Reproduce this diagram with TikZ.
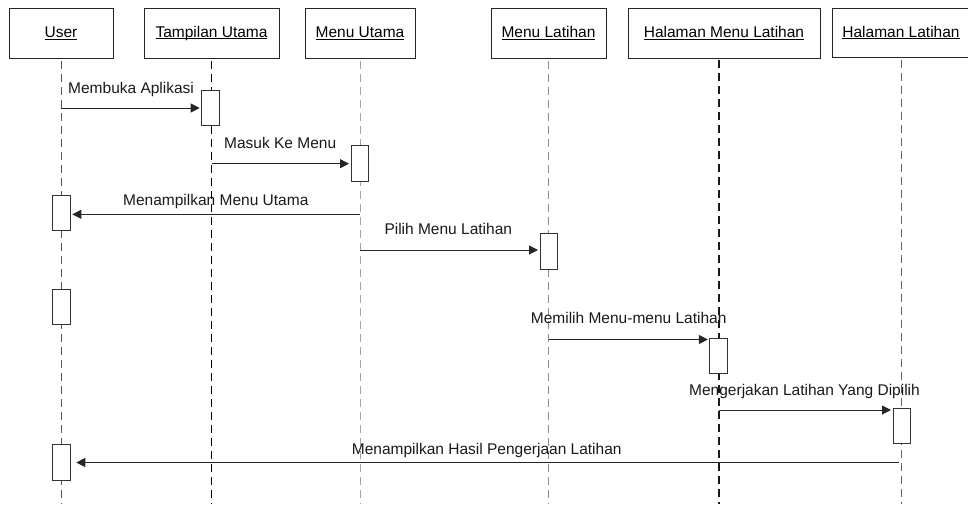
\documentclass[tikz,border=0pt]{standalone}
\usepackage{fontspec}
\setmainfont{Liberation Sans}
\usetikzlibrary{arrows.meta}
% underlined object name sitting just under the baseline
\newcommand\undl[1]{\setbox0\hbox{#1}\rlap{\rule[-2pt]{\wd0}{0.9pt}}\box0}
\begin{document}
\begin{tikzpicture}[x=1pt,y=-1pt,
  every node/.style={font=\fontsize{15.5}{18}\selectfont},
  head/.style={draw=black!85,line width=1pt,minimum height=50pt,inner sep=0pt,fill=white},
  life/.style={line width=1pt,dash pattern=on 8pt off 5pt},
  act/.style={draw=black!80,line width=1pt,fill=white,minimum width=17.6pt,minimum height=35.5pt,inner sep=0pt},
  msg/.style={draw=black!85,line width=1pt,-{Triangle[length=9pt,width=9pt]},shorten >=1.5pt},
  lbl/.style={anchor=base west,inner sep=0pt,text=black!90}]
\useasboundingbox (0,0) rectangle (968,504);

% object heads
\node[head,minimum width=104pt] (hU) at (61,33.3) {\undl{User}};
\node[head,minimum width=135pt] (hT) at (211.5,33.3) {\undl{Tampilan Utama}};
\node[head,minimum width=110pt] (hM) at (360,33.3) {\undl{Menu Utama}};
\node[head,minimum width=115pt] (hL) at (548.5,33.3) {\undl{Menu Latihan}};
\node[head,minimum width=192pt] (hH) at (724,33.3) {\undl{Halaman Menu Latihan}\hspace{10pt}};
\node[head,minimum width=138pt,minimum height=49pt] (hP) at (901,32.7) {\undl{Halaman Latihan}};

% lifeline ends
\coordinate (eU) at (61,504);
\coordinate (eT) at (211.5,504);
\coordinate (eM) at (360,504);
\coordinate (eL) at (548.5,504);
\coordinate (eH) at (719,504);
\coordinate (eP) at (901.3,504);

% lifelines
\draw[life,draw=black!65] (hU.south) ++(0,2) -- (eU);
\draw[life,draw=black,line width=1.3pt] (hT.south) ++(0,2) -- (eT);
\draw[life,draw=black!35] (hM.south) ++(0,2) -- (eM);
\draw[life,draw=black!45] (hL.south) ++(0,2) -- (eL);
\draw[life,draw=black!90,line width=1.3pt] (719,60) -- (eH);
\draw[life,draw=black!60] (hP.south) ++(0.3,2) -- (eP);

% activation bars
\node[act] (a1) at (210.5,107.8) {};
\node[act] (a2) at (359.8,163.3) {};
\node[act] (u1) at (61.5,213.2) {};
\node[act] (a3) at (548.8,251.5) {};
\node[act] (u2) at (61.5,307) {};
\node[act] (a4) at (718.7,356) {};
\node[act] (a5) at (901.8,426.2) {};
\node[act] (u3) at (61.5,462.7) {};

% message start points on the lifelines
\coordinate (m1) at (61,108);
\coordinate (m2) at (211.5,163.7);
\coordinate (m3) at (360,214.3);
\coordinate (m4) at (360,250);
\coordinate (m6) at (548.5,339.5);
\coordinate (m7) at (719,410);
\coordinate (m8) at (899,462.5);

% messages
\draw[msg] (m1) -- (m1 -| a1.west);
\draw[msg] (m2) -- (m2 -| a2.west);
\draw[msg] (m3) -- (m3 -| u1.east);
\draw[msg] (m4) -- (m4 -| a3.west);
\draw[msg] (m6) -- (m6 -| a4.west);
\draw[msg] (m7) -- (m7 -| a5.west);
\draw[msg,shorten >=5.5pt] (m8) -- (m8 -| u3.east);

% message labels
\node[lbl] (l1) at (68,93.3) {Membuka Aplikasi};
\node[lbl] (l2) at (224,148.3) {Masuk Ke Menu};
\node[lbl] (l3) at (123,205) {Menampilkan Menu Utama};
\node[lbl] (l4) at (384.3,234.3) {Pilih Menu Latihan};
\node[lbl] (l6) at (530.7,323.7) {Memilih Menu-menu Latihan};
\node[lbl] (l7) at (689,395) {Mengerjakan Latihan Yang Dipilih};
\node[lbl] (l8) at (351.7,454.3) {Menampilkan Hasil Pengerjaan Latihan};
\end{tikzpicture}
\end{document}
